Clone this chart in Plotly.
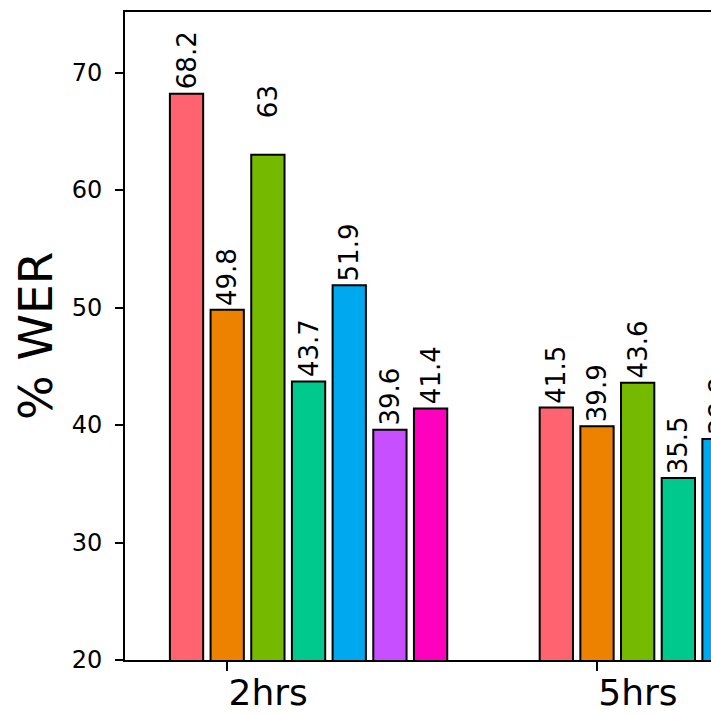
import plotly.graph_objects as go

categories = ["2hrs", "5hrs"]
series_names = ["S1", "S2", "S3", "S4", "S5", "S6", "S7"]
# values per series: [2hrs, 5hrs]; bars beyond the visible crop are None
s1 = [68.2, 41.5]
s2 = [49.8, 39.9]
s3 = [63.0, 43.6]
s4 = [43.7, 35.5]
s5 = [51.9, 38.8]
s6 = [39.6, None]
s7 = [41.4, None]
series_values = [s1, s2, s3, s4, s5, s6, s7]
label_texts = [["68.2", "41.5"], ["49.8", "39.9"], ["63", "43.6"], ["43.7", "35.5"],
               ["51.9", "38.8"], ["39.6", None], ["41.4", None]]

colors = ["#FF6370", "#EC8200", "#76BA00", "#00C98D", "#00A8EF", "#C74FFF", "#FF00BF"]

pitch = 0.11
width = 0.09
xs = list(range(len(categories)))
x_range = [-0.2764, 1.3083]

fig = go.Figure()
annotations = []
for i, (name, vals) in enumerate(zip(series_names, series_values)):
    off = (i - 1) * pitch - width / 2
    fig.add_trace(go.Bar(
        x=xs, y=vals, name=name, width=width, offset=off,
        marker=dict(color=colors[i], line=dict(color="black", width=2)),
        showlegend=False, hoverinfo="skip", cliponaxis=True,
    ))
    for g, v in enumerate(vals):
        if v is None:
            continue
        txt = label_texts[i][g]
        extra = 33 if txt == "63" else 0
        xc = g + (i - 1) * pitch
        # express label position in paper fraction of the x axis so labels
        # partially beyond the axis range are still drawn (cropped like the original)
        xp = (xc - x_range[0]) / (x_range[1] - x_range[0])
        annotations.append(dict(
            x=xp, y=v, xref="paper", yref="y", text=txt,
            textangle=-90, showarrow=False, xanchor="center", yanchor="bottom",
            yshift=2 + extra, font=dict(family="DejaVu Sans", size=26, color="black"),
        ))

annotations.append(dict(
    x=(35 - 125) / 586, y=0.5, xref="paper", yref="paper", text="% WER",
    textangle=-90, showarrow=False, xanchor="center", yanchor="middle",
    font=dict(family="DejaVu Sans", size=47, color="black"),
))

fig.update_layout(
    width=711, height=715,
    margin=dict(l=125, r=0, t=12, b=55, autoexpand=False),
    plot_bgcolor="white", paper_bgcolor="white",
    barmode="overlay",
    annotations=annotations,
    font=dict(family="DejaVu Sans", color="black"),
    xaxis=dict(
        range=x_range, tickvals=xs, ticktext=categories,
        showgrid=False, zeroline=False, showline=True, linecolor="black", linewidth=2,
        mirror=True, ticks="outside", ticklen=9, tickwidth=1.5, tickcolor="black",
        tickfont=dict(family="DejaVu Sans", size=36, color="black"),
        ticklabelshift=41, ticklabelstandoff=-9, automargin=False,
    ),
    yaxis=dict(
        range=[20, 75.15], tickvals=[20, 30, 40, 50, 60, 70],
        showgrid=False, zeroline=False, showline=True, linecolor="black", linewidth=2,
        ticks="outside", ticklen=8, tickwidth=1.5, tickcolor="black",
        tickfont=dict(family="DejaVu Sans", size=24, color="black"),
        ticklabelstandoff=8, automargin=False,
    ),
)

fig.write_html(
    "out.html",
    config={"displayModeBar": False},
    post_script="document.documentElement.style.margin='0';document.body.style.margin='0';document.body.style.overflow='hidden';",
)
